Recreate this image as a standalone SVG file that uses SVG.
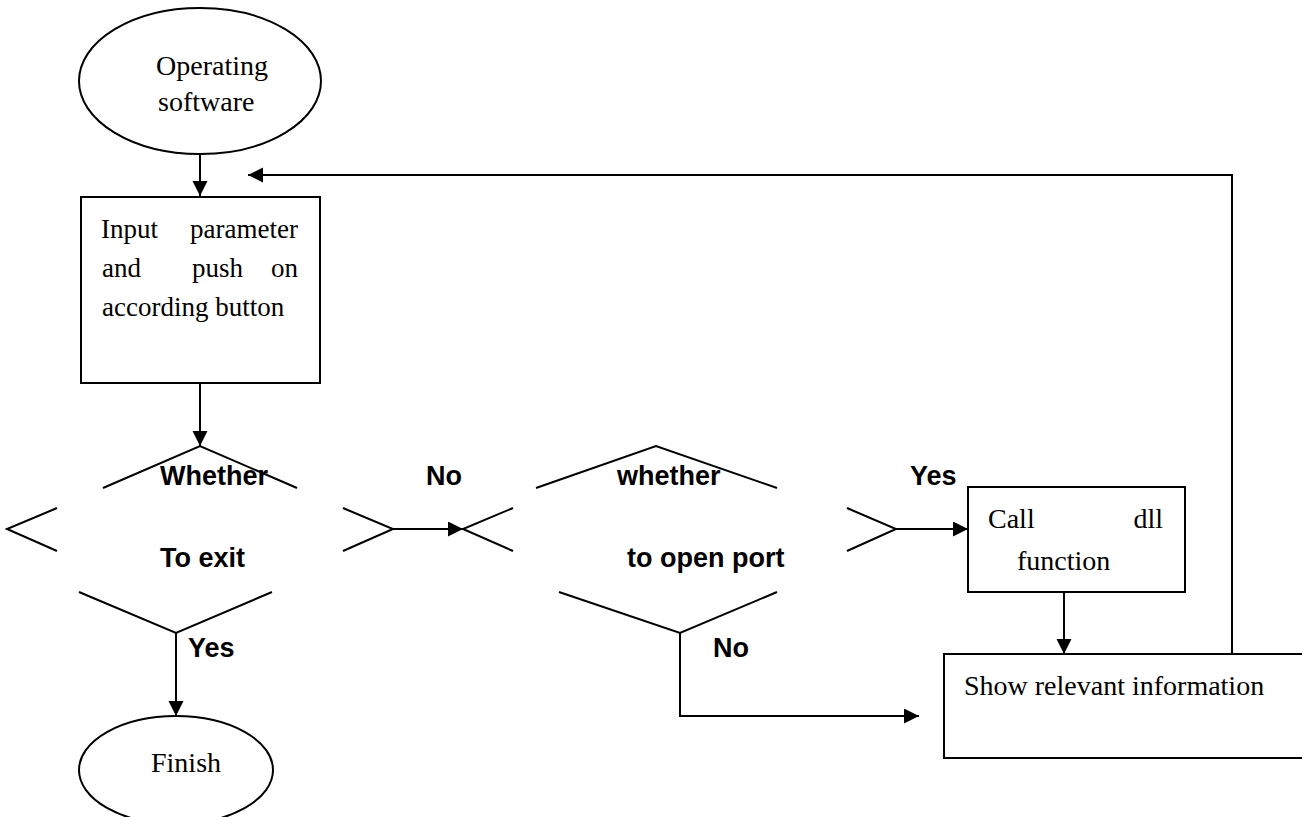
<svg xmlns="http://www.w3.org/2000/svg" width="1302" height="817" viewBox="0 0 1302 817">
<style>
.shape{fill:#fff;stroke:#000;stroke-width:2}
.seg{fill:none;stroke:#000;stroke-width:2}
.conn{fill:none;stroke:#000;stroke-width:2}
.t{font-family:"Liberation Serif","Times New Roman",serif;font-size:28px;fill:#000}
.ts{font-size:27px}
.b{font-family:"Liberation Sans",Arial,sans-serif;font-size:27px;font-weight:bold;fill:#000}
</style>
<defs>
<marker id="ah" markerUnits="userSpaceOnUse" markerWidth="16" markerHeight="16" refX="15" refY="7.5" orient="auto">
<path d="M0,0 L15,7.5 L0,15 Z" fill="#000"/>
</marker>
</defs>
<rect width="1302" height="817" fill="#fff"/>

<g id="start">
<ellipse class="shape" cx="200" cy="81" rx="121" ry="73"/>
<text class="t" x="156" y="75">Operating</text>
<text class="t" x="158" y="111">software</text>
</g>

<g id="input">
<rect class="shape" x="81" y="197" width="239" height="186"/>
<text class="t ts" x="101" y="238">Input</text>
<text class="t ts" x="298" y="238" text-anchor="end">parameter</text>
<text class="t ts" x="102" y="277">and</text>
<text class="t ts" x="192" y="277">push</text>
<text class="t ts" x="298" y="277" text-anchor="end">on</text>
<text class="t ts" x="102" y="316">according button</text>
</g>

<g id="exit-decision">
<polyline class="seg" points="103,488 200,446 297,488"/>
<polyline class="seg" points="57,508 7,529 57,551"/>
<polyline class="seg" points="343,508 393,529 343,551"/>
<polyline class="seg" points="79,592 176,633 272,592"/>
<text class="b" x="160" y="485">Whether</text>
<text class="b" x="160" y="567">To exit</text>
</g>

<g id="port-decision">
<polyline class="seg" points="536,488 656,446 777,488"/>
<polyline class="seg" points="513,508 463,529 513,551"/>
<polyline class="seg" points="847,508 896,529 847,551"/>
<polyline class="seg" points="559,592 680,633 777,592"/>
<text class="b" x="617" y="485">whether</text>
<text class="b" x="627" y="567">to open port</text>
</g>

<g id="call-dll">
<rect class="shape" x="968" y="487" width="217" height="105"/>
<text class="t" x="988" y="528">Call</text>
<text class="t" x="1163" y="528" text-anchor="end">dll</text>
<text class="t" x="1017" y="570">function</text>
</g>

<g id="show-info">
<rect class="shape" x="944" y="654" width="400" height="104"/>
<text class="t" x="964" y="695">Show relevant information</text>
</g>

<g id="finish">
<ellipse class="shape" cx="176" cy="770" rx="97" ry="54"/>
<text class="t" x="151" y="772">Finish</text>
</g>

<g id="connectors">
<line class="conn" x1="200" y1="154" x2="200" y2="196" marker-end="url(#ah)"/>
<line class="conn" x1="200" y1="383" x2="200" y2="446" marker-end="url(#ah)"/>
<line class="conn" x1="393" y1="529" x2="463" y2="529" marker-end="url(#ah)"/>
<line class="conn" x1="896" y1="529" x2="968" y2="529" marker-end="url(#ah)"/>
<line class="conn" x1="1064" y1="592" x2="1064" y2="654" marker-end="url(#ah)"/>
<polyline class="conn" points="680,633 680,716 919,716" marker-end="url(#ah)"/>
<line class="conn" x1="176" y1="633" x2="176" y2="716" marker-end="url(#ah)"/>
<polyline class="conn" points="1232,654 1232,175 248,175" marker-end="url(#ah)"/>
<text class="b" x="426" y="485">No</text>
<text class="b" x="910" y="485">Yes</text>
<text class="b" x="188" y="657">Yes</text>
<text class="b" x="713" y="657">No</text>
</g>
</svg>
